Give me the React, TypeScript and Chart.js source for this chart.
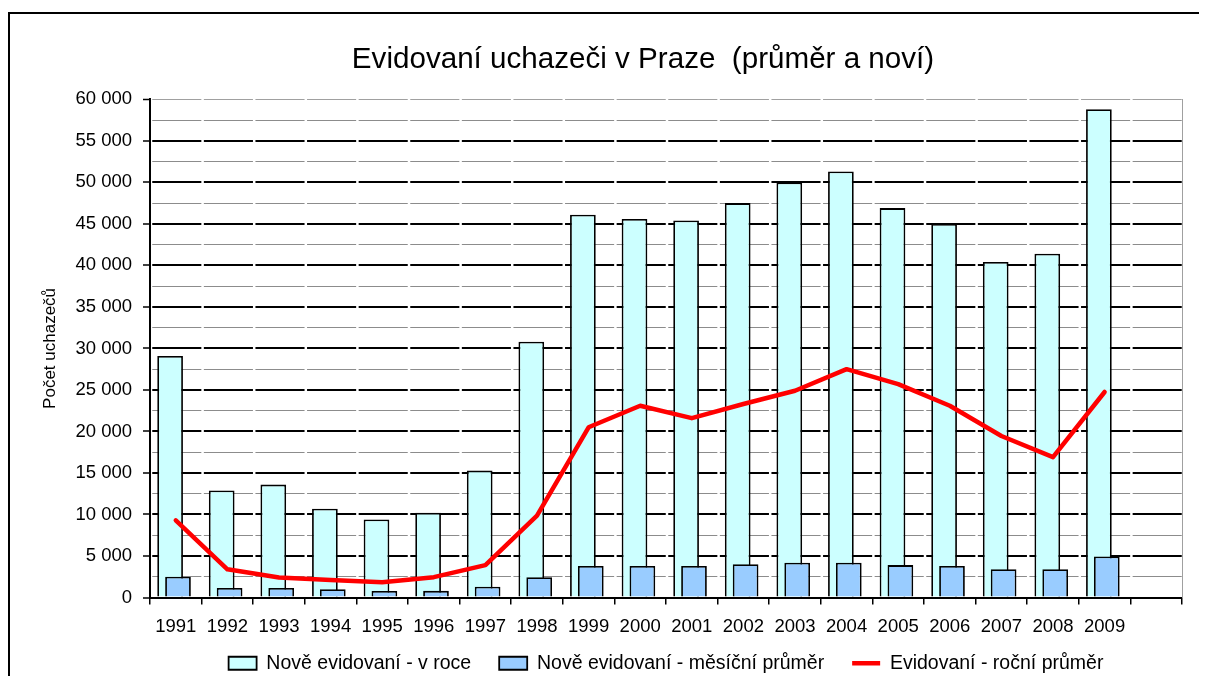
import React, { useEffect, useRef } from 'react';
import { Chart, registerables } from 'chart.js';

Chart.register(...registerables);

const TITLE = 'Evidovaní uchazeči v Praze  (průměr a noví)';
const Y_TITLE = 'Počet uchazečů';

const years = [
  '1991', '1992', '1993', '1994', '1995', '1996', '1997', '1998', '1999', '2000',
  '2001', '2002', '2003', '2004', '2005', '2006', '2007', '2008', '2009',
];
// one trailing empty category, as in the original
const categories = [...years, ''];

const seriesLabels = [
  'Nově evidovaní - v roce',
  'Nově evidovaní - měsíční průměr',
  'Evidovaní - roční průměr',
];

const newPerYear = [
  29100, 12900, 13600, 10700, 9400, 10200, 15300, 30800, 46100, 45600,
  45400, 47500, 50000, 51300, 46900, 45000, 40400, 41400, 58800,
];
const newMonthlyAvg = [
  2500, 1150, 1150, 1000, 780, 800, 1300, 2450, 3800, 3800,
  3800, 4000, 4200, 4200, 3900, 3800, 3400, 3400, 4950,
];
const registeredAvg = [
  9300, 3400, 2400, 2100, 1850, 2450, 3900, 9850, 20500, 23100,
  21600, 23300, 24900, 27500, 25700, 23100, 19450, 16900, 24750,
];

const Y_MIN = 0;
const Y_MAX = 60000;
const Y_MINOR = 2500;
const Y_MAJOR = 5000;

const fmt = (v: number) => String(v).replace(/\B(?=(\d{3})+(?!\d))/g, ' ');

// layout / style constants
const CANVAS_W = 1266;
const CANVAS_H = 669;
const Y_AXIS_W = 140;
const RIGHT_W = 94;
const PLOT_W = CANVAS_W - Y_AXIS_W - RIGHT_W;
const CAT_W = PLOT_W / categories.length;
const GAP = 2.5;
const BAR_FRAC = 0.498; // bar width as a fraction of a category
// overlapping bars (Excel "overlap"): shift within the category, in category units
const SHIFT_YEAR = -0.1105;
const SHIFT_MONTH = 0.0426;

const extendXLabelClip = {
  id: 'extendXLabelClip',
  afterLayout(chart: any) {
    const s = chart.scales.x;
    if (s) s.bottom = s.top + 60;
  },
};

export default function App() {
  const ref = useRef<HTMLCanvasElement | null>(null);

  useEffect(() => {
    const canvas = ref.current;
    if (!canvas) return;
    Chart.defaults.font.family = "'Liberation Sans', Arial, sans-serif";
    Chart.defaults.color = '#000';

    const tickVal = (c: any) => (c && c.tick ? c.tick.value : 0);
    const hiddenX = () => ({
      type: 'linear',
      display: false,
      min: -0.5,
      max: categories.length - 0.5,
      offset: false,
      ticks: { stepSize: 1, maxTicksLimit: 100 },
    });

    const chart = new Chart(canvas, {
      type: 'bar',
      data: {
        labels: categories,
        datasets: [
          {
            type: 'bar',
            label: seriesLabels[0],
            data: newPerYear.map((v, i) => ({ x: i + SHIFT_YEAR, y: v })),
            backgroundColor: '#CCFFFF',
            borderColor: '#000',
            borderWidth: 1.8,
            xAxisID: 'xYear',
            yAxisID: 'y',
            order: 2,
            grouped: false,
            categoryPercentage: 1,
            barPercentage: BAR_FRAC,
            pointStyle: 'rect',
          } as any,
          {
            type: 'bar',
            label: seriesLabels[1],
            data: newMonthlyAvg.map((v, i) => ({ x: i + SHIFT_MONTH, y: v })),
            backgroundColor: '#99CCFF',
            borderColor: '#000',
            borderWidth: 1.8,
            xAxisID: 'xMonth',
            yAxisID: 'y',
            order: 1,
            grouped: false,
            categoryPercentage: 1,
            barPercentage: BAR_FRAC,
            pointStyle: 'rect',
          } as any,
          {
            type: 'line',
            label: seriesLabels[2],
            data: registeredAvg,
            borderColor: '#FF0000',
            backgroundColor: '#FF0000',
            borderWidth: 4.5,
            pointRadius: 0,
            tension: 0,
            borderJoinStyle: 'round',
            borderCapStyle: 'round',
            xAxisID: 'x',
            yAxisID: 'y',
            order: 0,
            pointStyle: 'line',
          } as any,
        ],
      },
      options: {
        responsive: false,
        animation: false,
        events: [],
        layout: { padding: 0 },
        plugins: {
          title: {
            display: true,
            text: TITLE,
            color: '#000',
            font: { size: 29.6, weight: 'normal' },
            padding: { top: 28.4, bottom: 21.4 },
          },
          legend: {
            position: 'bottom',
            fullSize: false,
            labels: {
              color: '#000',
              font: { size: 19.5 },
              usePointStyle: true,
              pointStyleWidth: 28,
              boxHeight: 13,
              padding: 28,
              sort: (a: any, b: any) => a.datasetIndex - b.datasetIndex,
            },
          },
          tooltip: { enabled: false },
        },
        scales: {
          x: {
            type: 'category',
            labels: categories,
            offset: true,
            grid: {
              offset: true,
              drawOnChartArea: false,
              color: '#000',
              lineWidth: 1.5,
              tickLength: 7,
            },
            border: { color: '#000', width: 2 },
            ticks: {
              color: '#000',
              font: { size: 18.5 },
              padding: 11.5,
              autoSkip: false,
              maxRotation: 0,
            },
            afterFit: (s: any) => {
              s.height = 28;
            },
          },
          xYear: hiddenX(),
          xMonth: hiddenX(),
          y: {
            type: 'linear',
            position: 'left',
            min: Y_MIN,
            max: Y_MAX,
            ticks: {
              stepSize: Y_MINOR,
              maxTicksLimit: 100,
              autoSkip: false,
              padding: 11,
              color: '#000',
              font: { size: 18.5 },
              callback: (v: any) => (Number(v) % Y_MAJOR === 0 ? fmt(Number(v)) : ''),
            },
            grid: {
              color: (c: any) => {
                const v = tickVal(c);
                if (v === Y_MAX) return '#a0a0a0';
                return v % Y_MAJOR === 0 ? '#000' : '#8c8c8c';
              },
              lineWidth: (c: any) => {
                const v = tickVal(c);
                if (v === Y_MAX) return 1;
                return v % Y_MAJOR === 0 ? 2 : 1;
              },
              tickLength: 7,
              tickColor: (c: any) => (tickVal(c) % Y_MAJOR === 0 ? '#000' : 'rgba(0,0,0,0)'),
              tickWidth: 1.5,
            },
            border: {
              color: '#000',
              width: 2,
              dash: [CAT_W - GAP, GAP],
              dashOffset: CAT_W - GAP / 2,
            },
            title: {
              display: true,
              text: Y_TITLE,
              color: '#000',
              font: { size: 17 },
              padding: { top: 29.8, bottom: 0 },
            },
            afterFit: (s: any) => {
              s.width = Y_AXIS_W;
            },
          },
          yR: {
            type: 'linear',
            position: 'right',
            min: 0,
            max: 1,
            grid: { display: false, drawTicks: false },
            ticks: { display: false },
            border: { color: '#a0a0a0', width: 1 },
            afterFit: (s: any) => {
              s.width = RIGHT_W;
            },
          },
        },
      } as any,
      plugins: [extendXLabelClip],
    });

    return () => {
      chart.destroy();
    };
  }, []);

  return (
    <div style={{ paddingTop: 4 }}>
      <div
        style={{
          width: 1189,
          height: 662,
          borderTop: '2px solid #000',
          borderLeft: '2px solid #000',
          overflow: 'hidden',
          background: '#fff',
        }}
      >
        <canvas ref={ref} width={CANVAS_W} height={CANVAS_H} style={{ display: 'block' }} />
      </div>
    </div>
  );
}
